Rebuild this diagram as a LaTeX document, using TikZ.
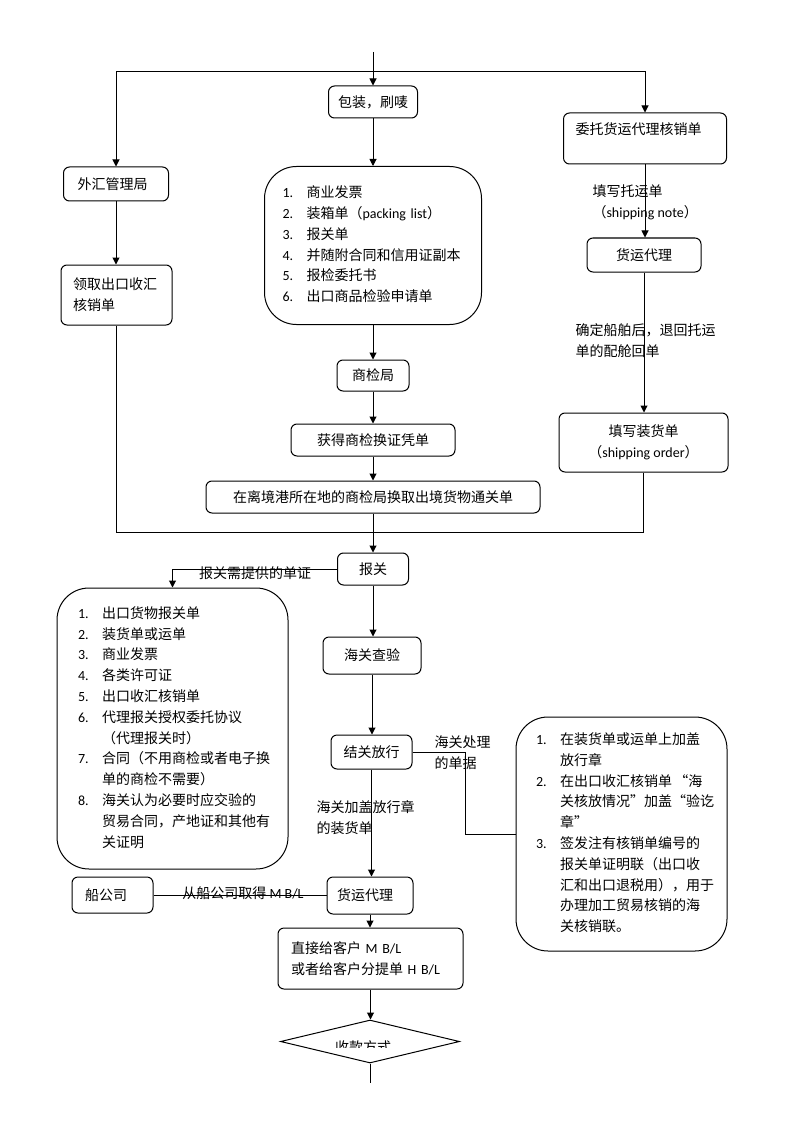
\documentclass[tikz,border=0pt]{standalone}
\usepackage{fontspec}
\setmainfont{Noto Sans CJK SC}
\newfontfamily\lat{Carlito}
\usetikzlibrary{arrows.meta,shapes.geometric}

\tikzset{
  box/.style={draw, rounded corners=6pt, inner sep=0pt, align=center},
  leftbox/.style={box, align=left},
  listbox/.style={draw, rounded corners=32pt, inner sep=0pt, align=left},
  note/.style={inner sep=0pt, align=left}
}

\begin{document}
\begin{tikzpicture}[x=1pt, y=-1pt, line width=1pt,
  >={Triangle[length=7pt,width=7pt]},
  font=\fontsize{14}{20.8}\selectfont]

\path[use as bounding box, fill=white] (0,0) rectangle (794,1123);

% middle column
\node[box, minimum width=89pt, minimum height=32pt] (bz) at (373,102) {包装，刷唛};
\node[listbox, text width=181pt, inner xsep=18pt, minimum height=158pt] (l1) at (373,245.5) {%
\begin{tabular}{@{}p{24pt}@{}l@{}}
{\lat 1.} & 商业发票\\
{\lat 2.} & 装箱单（{\lat packing list}）\\
{\lat 3.} & 报关单\\
{\lat 4.} & 并随附合同和信用证副本\\
{\lat 5.} & 报检委托书\\
{\lat 6.} & 出口商品检验申请单
\end{tabular}};
\node[box, minimum width=72pt, minimum height=31pt] (sj) at (373,375.5) {商检局};
\node[box, minimum width=164pt, minimum height=32pt] (hd) at (373,440) {获得商检换证凭单};
\node[box, minimum width=334pt, minimum height=32pt] (hj) at (373,497) {在离境港所在地的商检局换取出境货物通关单};

% left column
\node[leftbox, text width=77pt, inner xsep=14pt, minimum height=34pt] (wh) at (116,184) {外汇管理局};
\node[leftbox, text width=87pt, inner xsep=12pt, minimum height=60pt] (lq) at (116.5,295) {领取出口收汇\\核销单};

% right column
\node[leftbox, text width=139pt, inner xsep=12pt, minimum height=51pt] (wt) at (645,138.5) {委托货运代理核销单\\\mbox{}};
\node[box, minimum width=114pt, minimum height=34pt] (hy) at (644,255) {货运代理};
\node[box, minimum width=169pt, minimum height=59pt] (zh) at (643.5,442.5) {填写装货单\\（{\lat shipping order}）};

% customs
\node[box, minimum width=71pt, minimum height=32pt] (bg) at (373,569) {报关};
\node[listbox, text width=189pt, inner xsep=21pt, minimum height=281pt] (l2) at (172.5,728.5) {%
\begin{tabular}{@{}p{24pt}@{}l@{}}
{\lat 1.} & 出口货物报关单\\
{\lat 2.} & 装货单或运单\\
{\lat 3.} & 商业发票\\
{\lat 4.} & 各类许可证\\
{\lat 5.} & 出口收汇核销单\\
{\lat 6.} & 代理报关授权委托协议\\
 & （代理报关时）\\
{\lat 7.} & 合同（不用商检或者电子换\\
 & 单的商检不需要）\\
{\lat 8.} & 海关认为必要时应交验的\\
 & 贸易合同，产地证和其他有\\
 & 关证明
\end{tabular}};
\node[box, minimum width=98pt, minimum height=37pt] (cy) at (372,655.5) {海关查验};
\node[box, minimum width=81pt, minimum height=34pt] (jg) at (371.5,752) {结关放行};
\node[listbox, text width=171pt, inner xsep=20pt, minimum height=234pt] (l3) at (621.5,834) {%
\begin{tabular}{@{}p{24pt}@{}l@{}}
{\lat 1.} & 在装货单或运单上加盖\\
 & 放行章\\
{\lat 2.} & 在出口收汇核销单\,“海\\
 & 关核放情况”加盖“验讫\\
 & 章”\\
{\lat 3.} & 签发注有核销单编号的\\
 & 报关单证明联（出口收\\
 & 汇和出口退税用），用于\\
 & 办理加工贸易核销的海\\
 & 关核销联。
\end{tabular}};

% shipping
\node[leftbox, text width=66pt, inner xsep=10pt, minimum height=37pt] (hy2) at (370,895.5) {货运代理};
\node[leftbox, text width=55pt, inner xsep=13pt, minimum height=36pt] (cg) at (112.5,895) {船公司};
\node[leftbox, text width=159pt, inner xsep=13pt, minimum height=61pt] (zj) at (370.5,958.5) {直接给客户 {\lat M B/L}\\或者给客户分提单 {\lat H B/L}};
\node[draw, diamond, inner sep=0pt, minimum width=179pt, minimum height=43pt] (sk) at (370,1041.5) {};

\begin{scope}
\clip (280,1020) rectangle (460,1047);
\node[note] (lbsk) at (363,1047) {收款方式};
\end{scope}

% labels
\node[note, anchor=west] (lbtu) at (592,202) {填写托运单\\（{\lat shipping note}）};
\node[note, anchor=west] (lbpc) at (575,340.5) {确定船舶后，退回托运\\单的配舱回单};
\node[note] (lbdz) at (255,573) {报关需提供的单证};
\node[note, anchor=west] (lbcl) at (434,752.5) {海关处理\\的单据};
\node[note, anchor=west] (lbfx) at (316,818) {海关加盖放行章\\的装货单};
\node[note] (lbmbl) at (243,893) {从船公司取得 {\lat M B/L}};

% connectors
\coordinate (top) at (373,52);
\coordinate (split) at (373,72);
\coordinate (merge) at (373,532);
\coordinate (bend) at (465,834);
\coordinate (bottom) at (370,1083);

\draw[->] (top) -- (bz);
\draw[->] (split) -| (wh.north);
\draw[->] (split) -| (wt.north);

\foreach \a/\b in {bz/l1, l1/sj, sj/hd, hd/hj, wh/lq, wt/hy, hy/zh, hj/bg,
                   bg/cy, cy/jg, jg/hy2, hy2/zj, zj/sk}
  \draw[->] (\a.south) -- (\a.south |- \b.north);

\draw (lq.south) |- (merge);
\draw (zh.south) |- (merge);
\draw[->] (bg.west) -| (l2.north);
\draw (jg.east) -| (bend) -- (l3.west);
\draw (cg.east) -- (cg.east -| hy2.west);
\draw (sk.south) -- (bottom);
\end{tikzpicture}
\end{document}
